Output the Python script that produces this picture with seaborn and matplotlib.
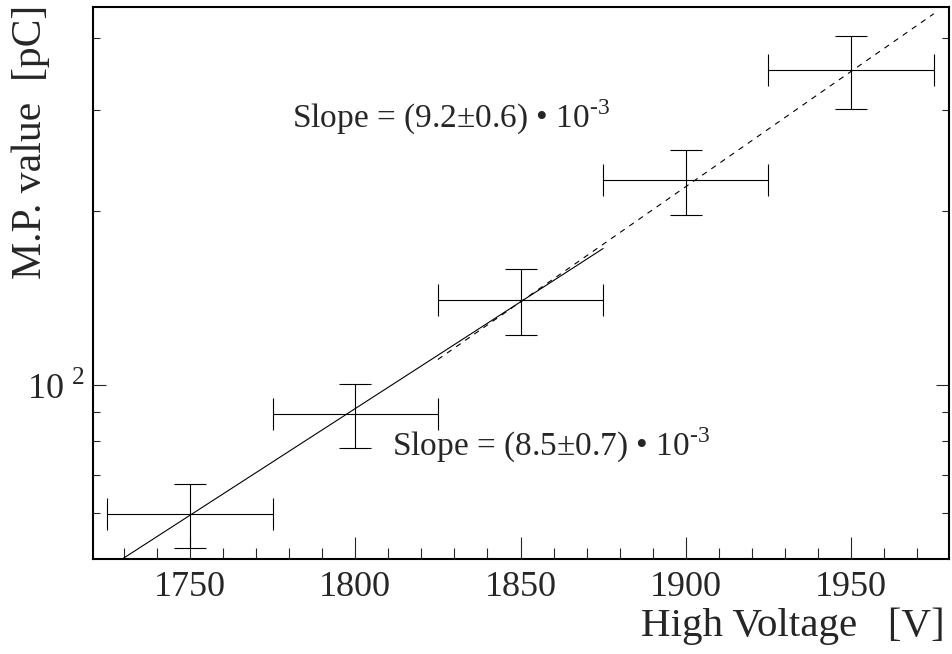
import numpy as np
import pandas as pd
import matplotlib
matplotlib.use("Agg")
import matplotlib.pyplot as plt
import matplotlib.ticker as mticker
import seaborn as sns

# ---- data ----
voltage = [1750, 1800, 1850, 1900, 1950]
mp_value = [59.9, 89.0, 140.4, 226.6, 351.6]
mp_error = [7.6, 11.3, 18.3, 29.4, 50.5]
voltage_error = [25, 25, 25, 25, 25]

fit_low_x = [1725, 1875]
fit_low_y = [48.1, 172.5]
fit_high_x = [1825, 1975]
fit_high_y = [110.8, 440.0]

slope_high_label = "Slope = (9.2±0.6) • 10$^{\\text{-3}}$"
slope_low_label = "Slope = (8.5±0.7) • 10$^{\\text{-3}}$"

x_major_ticks = [1750, 1800, 1850, 1900, 1950]
x_minor_ticks = [1730, 1740, 1760, 1770, 1780, 1790, 1810, 1820, 1830, 1840,
                 1860, 1870, 1880, 1890, 1910, 1920, 1930, 1940, 1960, 1970]
y_major_ticks = [100]
y_major_labels = ["10$^{\\mathregular{\\ 2}}$"]
y_minor_ticks = [60, 70, 80, 90, 200, 300, 400]

df = pd.DataFrame({"voltage": voltage, "mp": mp_value,
                   "mp_err": mp_error, "v_err": voltage_error})

sns.set_style("ticks")
plt.rcParams["font.family"] = ["Liberation Serif", "DejaVu Serif"]
plt.rcParams["mathtext.fontset"] = "custom"
plt.rcParams["mathtext.rm"] = "Liberation Serif"
plt.rcParams["lines.scale_dashes"] = False

fig = plt.figure(figsize=(9.52, 6.54), dpi=100)
ax = fig.add_axes([93 / 952, 1 - 559 / 654, (949 - 93) / 952, (559 - 7) / 654])

ax.errorbar(df["voltage"], df["mp"], xerr=df["v_err"], yerr=df["mp_err"],
            fmt="none", ecolor="black", elinewidth=0.8, capsize=11.5, capthick=0.8)

sns.lineplot(x=fit_low_x, y=fit_low_y, ax=ax, color="black", linewidth=0.8,
             estimator=None, sort=False)
sns.lineplot(x=fit_high_x, y=fit_high_y, ax=ax, color="black", linewidth=0.8,
             estimator=None, sort=False, linestyle=(0, (4, 4)))

ax.set_yscale("log")
ax.set_xlim(1720.7, 1979.6)
ax.set_ylim(50, 452)

ax.xaxis.set_major_locator(mticker.FixedLocator(x_major_ticks))
ax.xaxis.set_minor_locator(mticker.FixedLocator(x_minor_ticks))
ax.xaxis.set_major_formatter(mticker.FixedFormatter([str(v) for v in x_major_ticks]))
ax.yaxis.set_major_locator(mticker.FixedLocator(y_major_ticks))
ax.yaxis.set_major_formatter(mticker.FixedFormatter(y_major_labels))
ax.yaxis.set_minor_locator(mticker.FixedLocator(y_minor_ticks))
ax.yaxis.set_minor_formatter(mticker.NullFormatter())

ax.tick_params(axis="x", which="major", direction="in", length=15.8, width=0.8,
               labelsize=26, pad=9, top=False)
ax.tick_params(axis="x", which="minor", direction="in", length=7.9, width=0.8, top=False)
ax.tick_params(axis="y", which="major", direction="in", length=9.4, width=0.8,
               labelsize=26, pad=6, right=True)
ax.tick_params(axis="y", which="minor", direction="in", length=5, width=0.8, right=True)

for s in ax.spines.values():
    s.set_linewidth(1.5)
    s.set_color("black")

ax.text(1780.8, 279.7, slope_high_label, fontsize=24, ha="left", va="baseline")
ax.text(1811.0, 75.6, slope_low_label, fontsize=24, ha="left", va="baseline")

fig.text(945 / 952, 1 - 626 / 654, "High Voltage   [V]", fontsize=29.5,
         ha="right", va="center")
fig.text(31 / 952, 1 - 5 / 654, "M.P. value  [pC]", fontsize=30, rotation=90,
         ha="center", va="top")

fig.savefig("out.png", dpi=100)
